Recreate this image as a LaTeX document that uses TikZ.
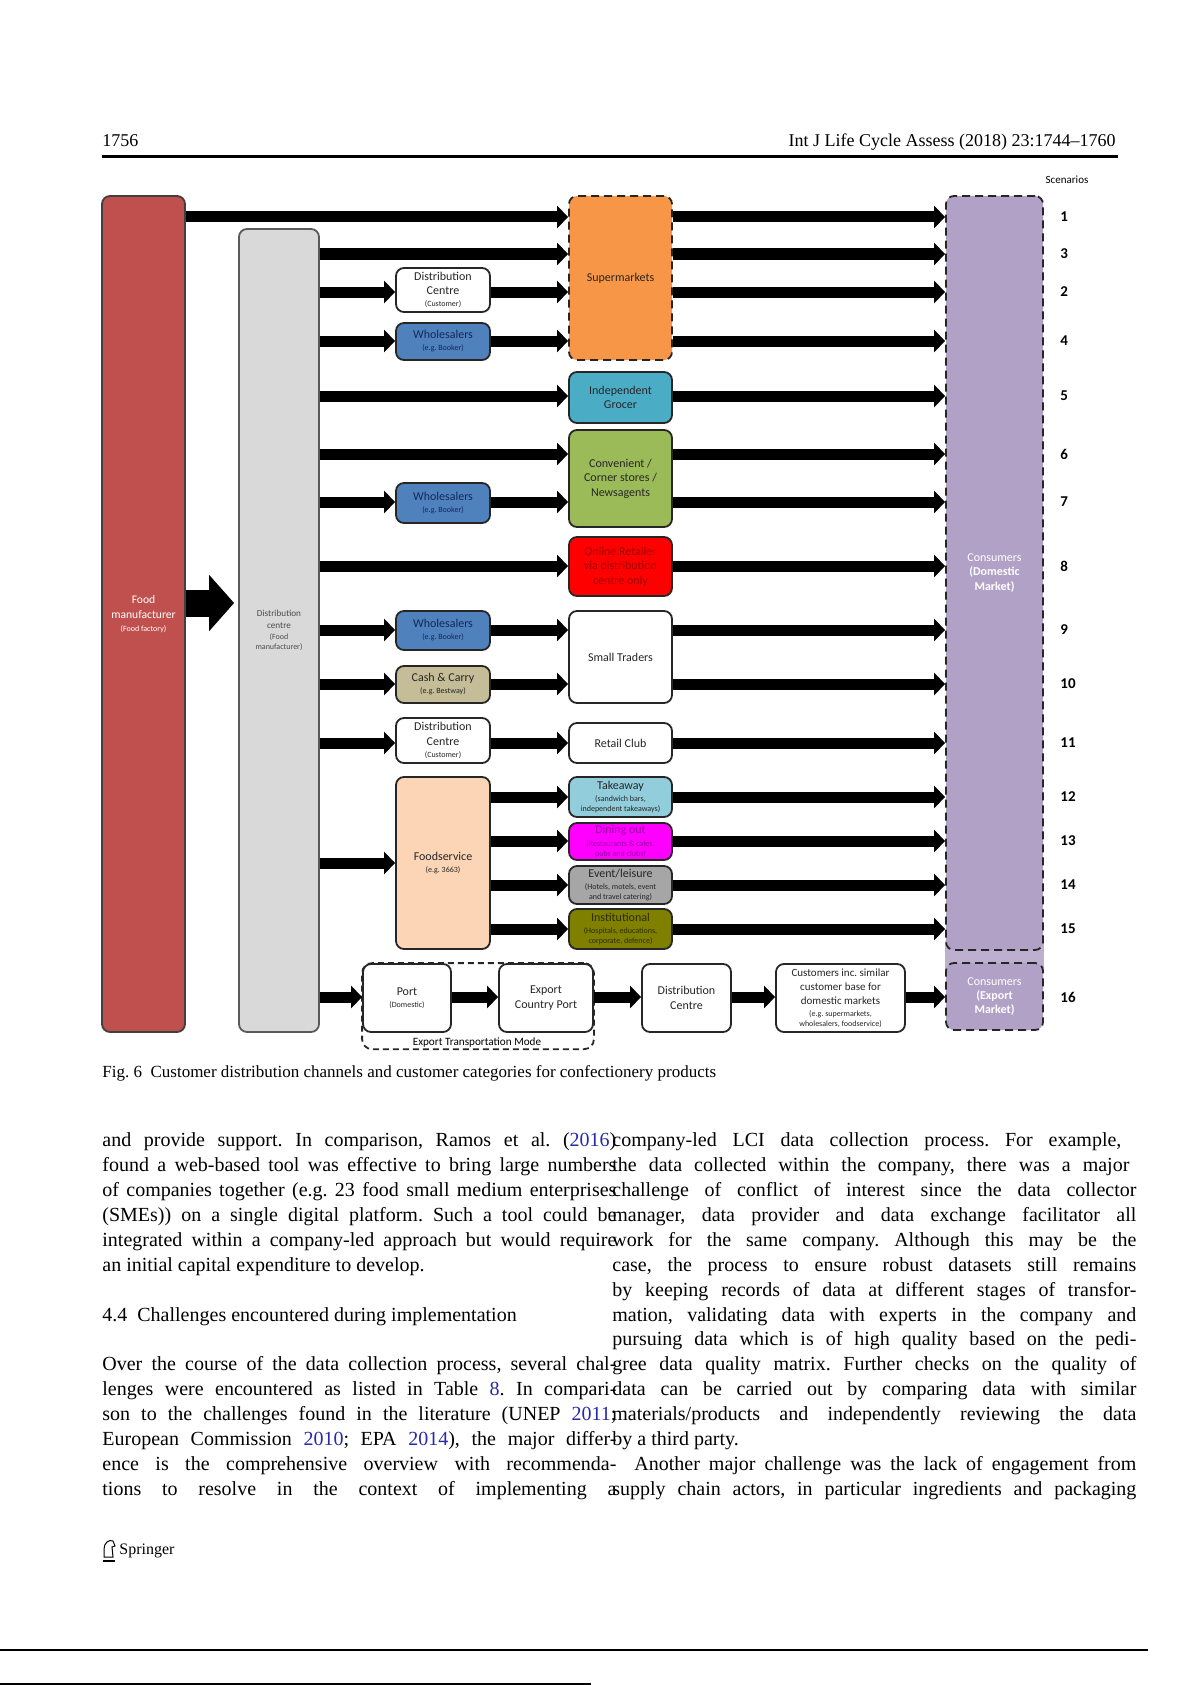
\documentclass[tikz,border=0pt]{standalone}
\usepackage{fontspec}
\setmainfont{Liberation Serif}
\newfontfamily\diagfont{Carlito}
\usepackage{xcolor}
\usepackage{tikz}
\usetikzlibrary{arrows.meta,positioning,fit,backgrounds}

\definecolor{foodred}{RGB}{192,80,77}
\definecolor{dcgrey}{RGB}{217,217,217}
\definecolor{superorange}{RGB}{247,150,70}
\definecolor{grocerblue}{RGB}{75,172,198}
\definecolor{convgreen}{RGB}{155,187,89}
\definecolor{onlinered}{RGB}{255,0,0}
\definecolor{onlinetext}{RGB}{160,0,0}
\definecolor{wholeblue}{RGB}{79,129,189}
\definecolor{wholetext}{RGB}{20,40,90}
\definecolor{cashtan}{RGB}{196,189,151}
\definecolor{foodpeach}{RGB}{251,213,181}
\definecolor{takeblue}{RGB}{146,205,220}
\definecolor{dinemag}{RGB}{255,0,255}
\definecolor{dinetext}{RGB}{150,0,160}
\definecolor{eventgrey}{RGB}{166,166,166}
\definecolor{instolive}{RGB}{127,127,0}
\definecolor{insttext}{RGB}{45,45,0}
\definecolor{conspurple}{RGB}{178,161,199}
\definecolor{linkblue}{RGB}{40,40,170}

\newcommand{\boxfont}{\diagfont\fontsize{6}{7.2}\selectfont}
\newcommand{\notefont}{\diagfont\fontsize{4}{4.8}\selectfont}
\newcommand{\greyfont}{\diagfont\fontsize{4.6}{6.2}\selectfont}
\newcommand{\numfont}{\diagfont\bfseries\fontsize{7.5}{9}\selectfont}
\newcommand{\bodyfont}{\fontsize{10}{12}\selectfont}
\newcommand{\lnk}[1]{\textcolor{linkblue}{#1}}
\frenchspacing

\begin{document}
\begin{tikzpicture}[x=0.5pt, y=-0.5pt,
    box/.style={rectangle, draw=black!85, line width=0.9pt, rounded corners=4pt, align=center, inner sep=1pt, font=\boxfont, text=black!85},
    midbox/.style={box, minimum width=47pt},
    retbox/.style={box, minimum width=51.5pt},
    dashbox/.style={dash pattern=on 4pt off 2.5pt},
    flow/.style={line width=5.5pt, -{Triangle[length=5.5pt,width=11pt]}},
    bigflow/.style={line width=13.5pt, -{Triangle[length=12.5pt,width=27.5pt]}},
    scen/.style={font=\numfont, anchor=west, inner sep=0pt},
    body/.style={font=\bodyfont, inner sep=0pt, anchor=base west}
]
    \useasboundingbox (0,0) rectangle (1191,1685);

    % Page head
    \node[font=\fontsize{9}{11}\selectfont, anchor=base west, inner sep=0pt] (pageno) at (102,147) {1756};
    \node[font=\fontsize{9}{11}\selectfont, anchor=base east, inner sep=0pt] (journal) at (1116,147) {Int J Life Cycle Assess (2018) 23:1744--1760};
    \draw[line width=1.5pt] (102,157) -- (1118,157);

    % Scenario rows
    \node[font=\diagfont\fontsize{5.5}{6}\selectfont] (scenlbl) at (1067,180) {Scenarios};
    \foreach \n/\y in {1/217,3/254,2/292,4/341,5/396,6/454,7/502,8/566,9/630,10/684,11/743,12/797,13/841,14/885,15/929,16/997} {
        \coordinate (s\n) at (0,\y);
        \node[scen] (num\n) at (1060,\y) {\n};
    }

    % Sources
    \node[box, fill=foodred, draw=black!75, minimum width=41.5pt, minimum height=418pt, text=white, font=\diagfont\fontsize{5.8}{7.4}\selectfont] (food) at (143.5,614) {Food\\manufacturer\\[-1pt]{\notefont (Food factory)}};
    \node[box, fill=dcgrey, draw=black!65, minimum width=40pt, minimum height=401.5pt, text=black!70, font=\greyfont] (dcfood) at (279,630.5) {Distribution\\[-0.4pt]centre\\[-0.6pt]{\notefont (Food}\\[-1pt]{\notefont manufacturer)}};

    % Intermediaries
    \node[midbox, fill=white, minimum height=22pt] (dc1) at (443,290) {Distribution\\Centre\\[-1.2pt]{\notefont (Customer)}};
    \node[midbox, fill=wholeblue, text=wholetext, minimum height=18.5pt] (whole1) at (443,341.5) {Wholesalers\\[-1.2pt]{\notefont (e.g. Booker)}};
    \node[midbox, fill=wholeblue, text=wholetext, minimum height=20pt] (whole2) at (443,503) {Wholesalers\\[-1.2pt]{\notefont (e.g. Booker)}};
    \node[midbox, fill=wholeblue, text=wholetext, minimum height=19.5pt] (whole3) at (443,630.5) {Wholesalers\\[-1.2pt]{\notefont (e.g. Booker)}};
    \node[midbox, fill=cashtan, minimum height=18.5pt] (cash) at (443,684.5) {Cash \& Carry\\[-1.2pt]{\notefont (e.g. Bestway)}};
    \node[midbox, fill=white, minimum height=22.5pt] (dc2) at (443,740.5) {Distribution\\Centre\\[-1.2pt]{\notefont (Customer)}};
    \node[midbox, fill=foodpeach, minimum height=86pt] (foodsvc) at (443,863) {Foodservice\\[-1.2pt]{\notefont (e.g. 3663)}};

    % Customer categories
    \node[retbox, dashbox, fill=superorange, minimum height=82pt] (sup) at (620.5,278) {Supermarkets};
    \node[retbox, fill=grocerblue, minimum height=25.5pt] (grocer) at (620.5,397.5) {Independent\\Grocer};
    \node[retbox, fill=convgreen, minimum height=48.5pt] (conv) at (620.5,478.5) {Convenient /\\Corner stores /\\Newsagents};
    \node[retbox, fill=onlinered, text=onlinetext, minimum height=29.5pt] (online) at (620.5,566.5) {Online Retailer\\via distribution\\centre only};
    \node[retbox, fill=white, minimum height=46pt] (small) at (620.5,657) {Small Traders};
    \node[retbox, fill=white, minimum height=20pt] (club) at (620.5,743) {Retail Club};
    \node[retbox, fill=takeblue, minimum height=20pt] (takeaway) at (620.5,797) {Takeaway\\[-1pt]{\notefont (sandwich bars,}\\[-2.2pt]{\notefont independent takeaways)}};
    \node[retbox, fill=dinemag, text=dinetext, minimum height=18.5pt] (dining) at (620.5,841.5) {Dining out\\[-1pt]{\notefont (Restaurants \& cafes,}\\[-2.2pt]{\notefont pubs and clubs)}};
    \node[retbox, fill=eventgrey, minimum height=19pt] (event) at (620.5,885) {Event/leisure\\[-1pt]{\notefont (Hotels, motels, event}\\[-2.2pt]{\notefont and travel catering)}};
    \node[retbox, fill=instolive, text=insttext, minimum height=20pt] (inst) at (620.5,929) {Institutional\\[-1pt]{\notefont (Hospitals, educations,}\\[-2.2pt]{\notefont corporate, defence)}};

    % Consumers
    \node[box, dashbox, fill=conspurple, minimum width=48.5pt, minimum height=377pt, text=white] (consdom) at (994.5,573) {Consumers\\\textbf{(Domestic}\\\textbf{Market)}};
    \node[box, dashbox, fill=conspurple, minimum width=48.5pt, minimum height=33.5pt, text=white] (consexp) at (994.5,996.5) {Consumers\\\textbf{(Export}\\\textbf{Market)}};

    % Export chain
    \node[box, fill=white, minimum width=44pt, minimum height=34pt] (port) at (407,998) {Port\\[-1pt]{\notefont (Domestic)}};
    \node[box, fill=white, minimum width=47pt, minimum height=34pt] (ecp) at (546,998) {Export\\Country Port};
    \node[box, fill=white, minimum width=44.5pt, minimum height=34pt] (dcexp) at (686.5,998) {Distribution\\Centre};
    \node[box, fill=white, minimum width=64.5pt, minimum height=34pt, font=\diagfont\fontsize{5.5}{7}\selectfont] (cust) at (840.5,998) {Customers inc. similar\\customer base for\\domestic markets\\[-1pt]{\notefont (e.g. supermarkets,}\\[-2pt]{\notefont wholesalers, foodservice)}};
    \node[font=\diagfont\fontsize{5.6}{6}\selectfont, inner sep=0.5pt] (explbl) at (477,1043) {Export Transportation Mode};

    \begin{scope}[on background layer]
        \node[draw=black!85, line width=0.9pt, dash pattern=on 3pt off 2pt, rounded corners=5pt, inner sep=0pt, fit=(port)(ecp)(explbl)] (expmode) {};
        \fill[conspurple!85] ([yshift=5pt]consdom.south west) rectangle ([yshift=-5pt]consexp.north east);
    \end{scope}

    % Arrows
    \coordinate (bigrow) at (0,603);
    \draw[bigflow, shorten >=2pt] (food.east |- bigrow) -- (dcfood.west |- bigrow);
    \draw[flow] (food.east |- s1) -- (sup.west |- s1);
    \draw[flow] (dcfood.east |- s3) -- (sup.west |- s3);
    \draw[flow] (dcfood.east |- s2) -- (dc1.west |- s2);
    \draw[flow] (dc1.east |- s2) -- (sup.west |- s2);
    \draw[flow] (dcfood.east |- s4) -- (whole1.west |- s4);
    \draw[flow] (whole1.east |- s4) -- (sup.west |- s4);
    \draw[flow] (dcfood.east |- s5) -- (grocer.west |- s5);
    \draw[flow] (dcfood.east |- s6) -- (conv.west |- s6);
    \draw[flow] (dcfood.east |- s7) -- (whole2.west |- s7);
    \draw[flow] (whole2.east |- s7) -- (conv.west |- s7);
    \draw[flow] (dcfood.east |- s8) -- (online.west |- s8);
    \draw[flow] (dcfood.east |- s9) -- (whole3.west |- s9);
    \draw[flow] (whole3.east |- s9) -- (small.west |- s9);
    \draw[flow] (dcfood.east |- s10) -- (cash.west |- s10);
    \draw[flow] (cash.east |- s10) -- (small.west |- s10);
    \draw[flow] (dcfood.east |- s11) -- (dc2.west |- s11);
    \draw[flow] (dc2.east |- s11) -- (club.west |- s11);
    \draw[flow] (dcfood.east |- foodsvc) -- (foodsvc.west);
    \foreach \b/\n in {takeaway/12, dining/13, event/14, inst/15}
        \draw[flow] (foodsvc.east |- s\n) -- (\b.west |- s\n);
    \foreach \b/\n in {sup/1, sup/3, sup/2, sup/4, grocer/5, conv/6, conv/7, online/8, small/9, small/10, club/11, takeaway/12, dining/13, event/14, inst/15}
        \draw[flow] (\b.east |- s\n) -- (consdom.west |- s\n);
    \draw[flow] (dcfood.east |- s16) -- (port.west |- s16);
    \draw[flow] (port.east |- s16) -- (ecp.west |- s16);
    \draw[flow] (ecp.east |- s16) -- (dcexp.west |- s16);
    \draw[flow] (dcexp.east |- s16) -- (cust.west |- s16);
    \draw[flow] (cust.east |- s16) -- (consexp.west |- s16);

    % Caption
    \node[font=\fontsize{8.5}{10}\selectfont, anchor=base west, inner sep=0pt] (caption) at (102,1077) {Fig.~6~~Customer distribution channels and customer categories for confectionery products};

    % Left column
    \node[body] (lc1) at (102,1146.3) {\makebox[257pt][s]{and provide support. In comparison, Ramos et al. (\lnk{2016})}};
    \node[body] (lc2) at (102,1171.3) {\makebox[257pt][s]{found a web-based tool was effective to bring large numbers}};
    \node[body] (lc3) at (102,1196.2) {\makebox[257pt][s]{of companies together (e.g. 23 food small medium enterprises}};
    \node[body] (lc4) at (102,1221.2) {\makebox[257pt][s]{(SMEs)) on a single digital platform. Such a tool could be}};
    \node[body] (lc5) at (102,1246.1) {\makebox[257pt][s]{integrated within a company-led approach but would require}};
    \node[body] (lc6) at (102,1271.1) {an initial capital expenditure to develop.};
    \node[body] (hd) at (102,1321.0) {4.4~~Challenges encountered during implementation};
    \node[body] (lc7) at (102,1370.9) {\makebox[257pt][s]{Over the course of the data collection process, several chal-}};
    \node[body] (lc8) at (102,1395.8) {\makebox[257pt][s]{lenges were encountered as listed in Table \lnk{8}. In compari-}};
    \node[body] (lc9) at (102,1420.8) {\makebox[257pt][s]{son to the challenges found in the literature (UNEP \lnk{2011};}};
    \node[body] (lc10) at (102,1445.7) {\makebox[257pt][s]{European Commission \lnk{2010}; EPA \lnk{2014}), the major differ-}};
    \node[body] (lc11) at (102,1470.7) {\makebox[257pt][s]{ence is the comprehensive overview with recommenda-}};
    \node[body] (lc12) at (102,1495.6) {\makebox[257pt][s]{tions to resolve in the context of implementing a}};

    % Right column
    \node[body] (rc1) at (612,1146.3) {\makebox[254.5pt][s]{company-led LCI data collection process. For example,}};
    \node[body] (rc2) at (612,1171.3) {\makebox[258.5pt][s]{the data collected within the company, there was a major}};
    \node[body] (rc3) at (612,1196.2) {\makebox[262pt][s]{challenge of conflict of interest since the data collector}};
    \node[body] (rc4) at (612,1221.2) {\makebox[262pt][s]{manager, data provider and data exchange facilitator all}};
    \node[body] (rc5) at (612,1246.1) {\makebox[262pt][s]{work for the same company. Although this may be the}};
    \node[body] (rc6) at (612,1271.1) {\makebox[262pt][s]{case, the process to ensure robust datasets still remains}};
    \node[body] (rc7) at (612,1296.0) {\makebox[262pt][s]{by keeping records of data at different stages of transfor-}};
    \node[body] (rc8) at (612,1321.0) {\makebox[262pt][s]{mation, validating data with experts in the company and}};
    \node[body] (rc9) at (612,1345.9) {\makebox[262pt][s]{pursuing data which is of high quality based on the pedi-}};
    \node[body] (rc10) at (612,1370.9) {\makebox[262pt][s]{gree data quality matrix. Further checks on the quality of}};
    \node[body] (rc11) at (612,1395.8) {\makebox[262pt][s]{data can be carried out by comparing data with similar}};
    \node[body] (rc12) at (612,1420.8) {\makebox[262pt][s]{materials/products and independently reviewing the data}};
    \node[body] (rc13) at (612,1445.7) {by a third party.};
    \node[body] (rc14) at (634,1470.7) {\makebox[251pt][s]{Another major challenge was the lack of engagement from}};
    \node[body] (rc15) at (612,1495.6) {\makebox[262pt][s]{supply chain actors, in particular ingredients and packaging}};

    % Page foot
    \draw[line width=0.5pt, fill=white] (104,1557) -- (104,1549) .. controls (104,1543) and (109,1539) .. (113,1541) -- (115,1546) -- (112,1547) -- (113,1557) -- cycle;
    \draw[line width=0.6pt] (103,1561) -- (115,1561);
    \node[font=\fontsize{8}{10}\selectfont, anchor=base west, inner sep=0pt] (springer) at (119,1554) {Springer};
    \draw[line width=0.75pt] (0,1650) -- (1148,1650);
    \draw[line width=1pt] (0,1683.5) -- (591,1683.5);
\end{tikzpicture}
\end{document}
